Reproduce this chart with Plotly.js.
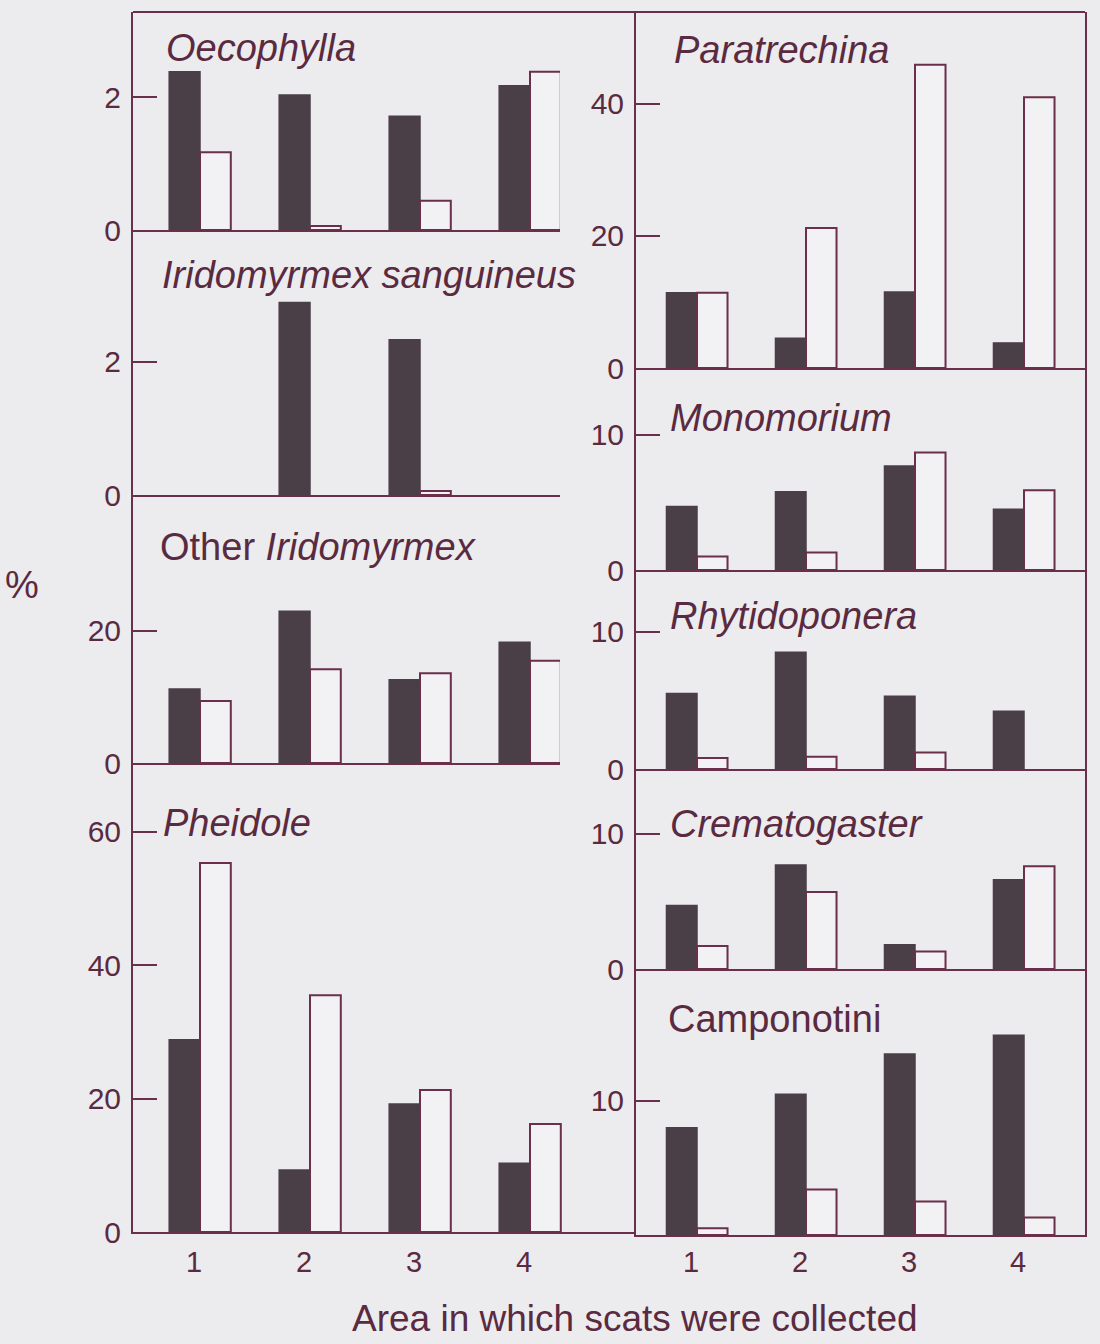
<!DOCTYPE html>
<html>
<head>
<meta charset="utf-8">
<script src="https://cdn.plot.ly/plotly-3.0.1.min.js"></script>
<style>
  html, body { margin: 0; padding: 0; background: #ecebee; }
  #chart { width: 1100px; height: 1344px; }
</style>
</head>
<body>
<div id="chart"></div>
<script>
// ---- Data ----
const areas = [1, 2, 3, 4];
const areaLabels = ['1', '2', '3', '4'];

const panelTitles = [
  '<i>Oecophylla</i>',
  '<i>Iridomyrmex sanguineus</i>',
  'Other <i>Iridomyrmex</i>',
  '<i>Pheidole</i>',
  '<i>Paratrechina</i>',
  '<i>Monomorium</i>',
  '<i>Rhytidoponera</i>',
  '<i>Crematogaster</i>',
  'Camponotini'
];

// dark (filled) bars and light (open) bars, in %; null = no bar drawn
const oecophyllaDark   = [2.38, 2.03, 1.71, 2.17];
const oecophyllaLight  = [1.17, 0.06, 0.44, 2.38];
const sanguineusDark   = [null, 2.89, 2.33, null];
const sanguineusLight  = [null, null, 0.06, null];
const otherIridoDark   = [11.2, 23.0, 12.6, 18.3];
const otherIridoLight  = [9.4, 14.2, 13.6, 15.5];
const pheidoleDark     = [28.8, 9.3, 19.2, 10.3];
const pheidoleLight    = [55.3, 35.5, 21.3, 16.2];
const paratrechinaDark = [11.4, 4.5, 11.5, 3.8];
const paratrechinaLight= [11.4, 21.2, 45.9, 41.0];
const monomoriumDark   = [4.7, 5.8, 7.7, 4.5];
const monomoriumLight  = [1.0, 1.3, 8.7, 5.9];
const rhytidoDark      = [5.5, 8.5, 5.3, 4.2];
const rhytidoLight     = [0.8, 0.9, 1.2, null];
const crematoDark      = [4.7, 7.7, 1.8, 6.6];
const crematoLight     = [1.7, 5.7, 1.3, 7.6];
const camponotiniDark  = [8.0, 10.5, 13.5, 14.9];
const camponotiniLight = [0.5, 3.4, 2.5, 1.3];

const yTicks = [[0, 2], [0, 2], [0, 20], [0, 20, 40, 60], [0, 20, 40], [0, 10], [0, 10], [0, 10], [10]];

const darkSeries  = [oecophyllaDark, sanguineusDark, otherIridoDark, pheidoleDark, paratrechinaDark, monomoriumDark, rhytidoDark, crematoDark, camponotiniDark];
const lightSeries = [oecophyllaLight, sanguineusLight, otherIridoLight, pheidoleLight, paratrechinaLight, monomoriumLight, rhytidoLight, crematoLight, camponotiniLight];

// ---- Layout geometry (pixels) ----
const W = 1100, H = 1344;
const LINE = '#6a2f4a';
const TEXT = '#5a2a40';
const DARK = '#4b3f47';
const OPEN = '#f2f1f3';
const FONT = 'Liberation Sans, Arial, Helvetica, sans-serif';

// [column, topPx, bottomPx, yMax]
const geom = [
  ['L', 12, 230, 3.28],
  ['L', 230, 495, 3.98],
  ['L', 495, 763, 40.6],
  ['L', 763, 1232, 70.3],
  ['R', 12, 368, 53.9],
  ['R', 368, 570, 14.96],
  ['R', 570, 769, 14.5],
  ['R', 769, 969, 14.8],
  ['R', 969, 1235, 19.85]
];
// title anchor positions [xPx, yPx]
const titlePos = [[164, 48], [160, 275], [158, 547], [161, 823], [672, 50], [668, 418], [668, 616], [668, 824], [666, 1019]];

const colL = { left: 133, right: 560, c1: 200, step: 110 };
const colR = { left: 636, right: 1085, c1: 697, step: 109 };

const traces = [];
const layout = {
  width: W, height: H,
  margin: { l: 0, r: 0, t: 0, b: 0 },
  paper_bgcolor: '#ecebee',
  plot_bgcolor: 'rgba(0,0,0,0)',
  showlegend: false,
  barmode: 'group',
  bargap: 0.44,
  bargroupgap: 0,
  font: { family: FONT, color: TEXT },
  annotations: [],
  shapes: []
};

geom.forEach((g, i) => {
  const n = i + 1;
  const xs = n === 1 ? '' : String(n);
  const col = g[0] === 'L' ? colL : colR;
  let rightPx = col.right;
  if (n === 4) rightPx = 636; // bottom-left baseline runs into right column
  const x0 = 1 - (col.c1 - col.left) / col.step;
  const x1 = 1 + (rightPx - col.c1) / col.step;
  const isBottom = (n === 4 || n === 9);

  traces.push({
    type: 'bar', x: areas, y: darkSeries[i],
    xaxis: 'x' + xs, yaxis: 'y' + xs,
    marker: { color: DARK, line: { color: DARK, width: 1.5 } },
    hoverinfo: 'skip'
  });
  traces.push({
    type: 'bar', x: areas, y: lightSeries[i],
    xaxis: 'x' + xs, yaxis: 'y' + xs,
    marker: { color: OPEN, line: { color: LINE, width: 2 } },
    hoverinfo: 'skip'
  });

  layout['xaxis' + xs] = {
    domain: [col.left / W, rightPx / W],
    range: [x0, x1],
    anchor: 'y' + xs,
    showline: true, linecolor: LINE, linewidth: 2,
    showgrid: false, zeroline: false,
    ticks: '',
    tickvals: areas, ticktext: areaLabels,
    showticklabels: isBottom,
    ticklabelshift: -6,
    ticklabelstandoff: n === 9 ? 0 : 3,
    tickfont: { family: FONT, size: 29, color: TEXT },
    fixedrange: true
  };
  layout['yaxis' + xs] = {
    domain: [1 - g[2] / H, 1 - g[1] / H],
    range: [0, g[3]],
    anchor: 'x' + xs,
    showline: true, linecolor: LINE, linewidth: 2,
    mirror: g[0] === 'R',
    showgrid: false, zeroline: false,
    ticks: 'inside', ticklen: 24, tickwidth: 2, tickcolor: LINE,
    tickvals: yTicks[i],
    ticklabelstandoff: 4,
    tickfont: { family: FONT, size: 30, color: TEXT },
    fixedrange: true
  };

  layout.annotations.push({
    xref: 'paper', yref: 'paper',
    x: titlePos[i][0] / W, y: 1 - titlePos[i][1] / H,
    xanchor: 'left', yanchor: 'middle',
    text: panelTitles[i], showarrow: false,
    font: { family: FONT, size: 38, color: TEXT }
  });
});

// top border
layout.shapes.push({
  type: 'line', xref: 'paper', yref: 'paper',
  x0: 133 / W, x1: 1085 / W, y0: 1 - 12 / H, y1: 1 - 12 / H,
  line: { color: LINE, width: 2 }
});

// common axis labels
layout.annotations.push({
  xref: 'paper', yref: 'paper', x: 635 / W, y: 1 - 1318 / H,
  xanchor: 'center', yanchor: 'middle', showarrow: false,
  text: 'Area in which scats were collected',
  font: { family: FONT, size: 37, color: TEXT }
});
layout.annotations.push({
  xref: 'paper', yref: 'paper', x: 22 / W, y: 1 - 585 / H,
  xanchor: 'center', yanchor: 'middle', showarrow: false,
  text: '%',
  font: { family: FONT, size: 38, color: TEXT }
});

Plotly.newPlot('chart', traces, layout, { staticPlot: true, displayModeBar: false });
</script>
</body>
</html>
